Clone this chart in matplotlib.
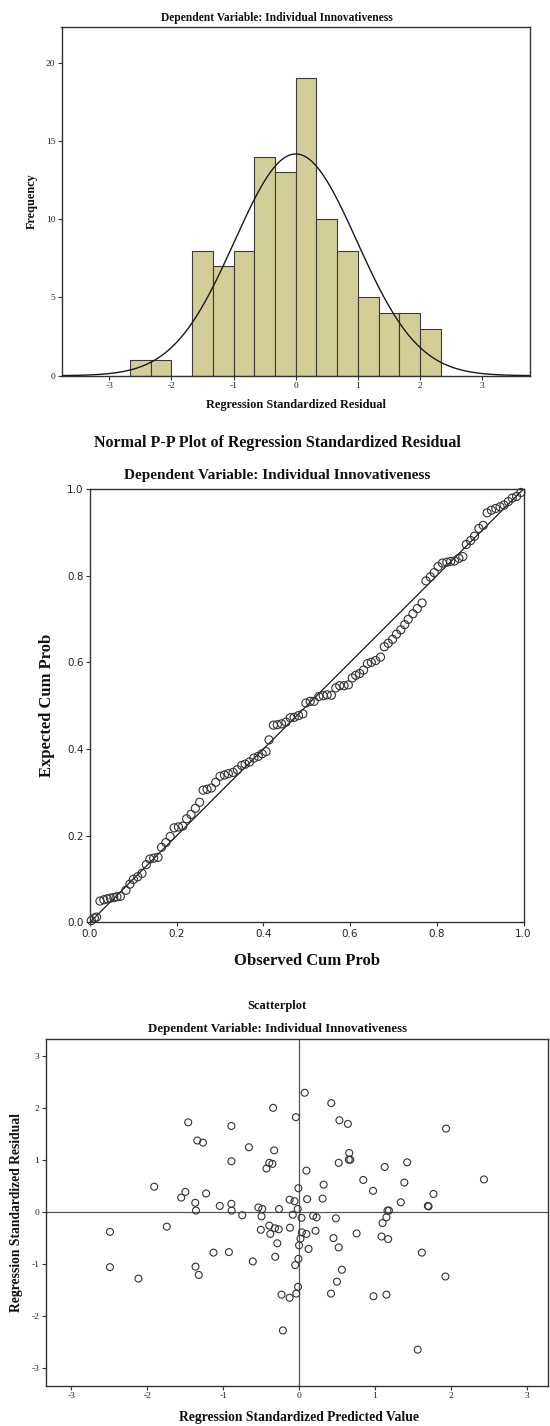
import numpy as np
import matplotlib
matplotlib.use("Agg")
import matplotlib.pyplot as plt

plt.rcParams["axes.unicode_minus"] = False

# ---------------- data ----------------
# Histogram of regression standardized residuals
hist_edges = [-2.667, -2.333, -2.0, -1.667, -1.333, -1.0, -0.667, -0.333, 0.0,
              0.333, 0.667, 1.0, 1.333, 1.667, 2.0, 2.333]
hist_counts = [1, 1, 0, 8, 7, 8, 14, 13, 19, 10, 8, 5, 4, 4, 3]
resid_mean = 0.0
resid_sd = 0.985

# Normal P-P plot
pp_observed = [0.003, 0.010, 0.015,
               0.023, 0.032, 0.040, 0.047, 0.055, 0.062, 0.070,
               0.083,
               0.092, 0.100, 0.110, 0.120,
               0.130, 0.138, 0.147, 0.157,
               0.165, 0.175, 0.185,
               0.194, 0.204, 0.214,
               0.223, 0.233, 0.243, 0.253,
               0.261, 0.270, 0.280,
               0.290, 0.300, 0.310, 0.319, 0.330, 0.340,
               0.350, 0.358, 0.368, 0.378, 0.388, 0.397, 0.406,
               0.413,
               0.423, 0.432, 0.442, 0.452, 0.462, 0.471, 0.481, 0.491,
               0.498, 0.508, 0.517, 0.528, 0.538, 0.547, 0.557,
               0.567, 0.576, 0.586, 0.596,
               0.605, 0.613, 0.622, 0.631, 0.640, 0.649, 0.659, 0.670,
               0.679, 0.688, 0.698, 0.707, 0.717, 0.726, 0.734, 0.745, 0.755, 0.766,
               0.775, 0.785, 0.794, 0.803, 0.813, 0.823, 0.832, 0.841, 0.851, 0.860,
               0.868, 0.878, 0.887, 0.897, 0.907,
               0.916, 0.926, 0.936, 0.946, 0.955,
               0.965, 0.974, 0.984, 0.994]
pp_expected = [0.004, 0.010, 0.012,
               0.049, 0.052, 0.054, 0.056, 0.057, 0.059, 0.060,
               0.074,
               0.088, 0.099, 0.105, 0.113,
               0.133, 0.146, 0.148, 0.150,
               0.173, 0.184, 0.198,
               0.218, 0.220, 0.222,
               0.239, 0.249, 0.263, 0.277,
               0.305, 0.307, 0.310,
               0.323, 0.337, 0.340, 0.343, 0.346, 0.352,
               0.362, 0.365, 0.370, 0.379, 0.383, 0.389, 0.394,
               0.421,
               0.455, 0.456, 0.458, 0.462, 0.472, 0.473, 0.477, 0.481,
               0.506, 0.510, 0.510, 0.521, 0.523, 0.525, 0.524,
               0.541, 0.546, 0.546, 0.548,
               0.564, 0.570, 0.574, 0.582, 0.597, 0.600, 0.604, 0.612,
               0.636, 0.644, 0.653, 0.665, 0.675, 0.687, 0.699, 0.712, 0.724, 0.737,
               0.788, 0.797, 0.807, 0.821, 0.829, 0.831, 0.833, 0.834, 0.840, 0.844,
               0.872, 0.881, 0.891, 0.909, 0.916,
               0.945, 0.951, 0.955, 0.959, 0.963,
               0.971, 0.979, 0.983, 0.992]

# Scatterplot: standardized predicted value vs standardized residual
sc_pred = [0.074, 0.425, -0.342, -0.042, 0.532, 0.643, -1.461, -0.892, 1.937,
           -1.341, -1.267, -0.661, -0.328, 0.661, 0.656, 0.675, -0.892,
           -0.393, -0.351, 0.522, 1.424, 1.128, -0.430, 0.097, 0.846, 2.436,
           -1.909, 0.324, 1.387, -1.498, -1.225, 0.975, 1.771, -0.009, -1.553,
           -0.125, -0.060, 0.106, 0.310, -1.368, -0.892, 1.341, -1.045,
           -0.536, -0.485, -0.264, -0.018, 1.706, 1.697, -1.359, -0.888,
           1.165, 1.184, -0.749, -0.495, -0.083, 0.032, 0.185, 0.231, 0.485,
           1.151, 1.100, -1.743, -2.492, -0.504, -0.393, -0.319, -0.268,
           -0.120, 0.037, 0.097, 0.217, -0.379, 0.758, 1.086, 1.174, 0.453,
           0.018, -0.287, 0.000, 0.522, 0.125, -1.128, -0.925, 1.618, -0.314,
           -0.009, -0.610, -2.492, -1.364, -0.051, 0.564, -1.322, 1.928,
           -2.117, 0.499, -0.014, 0.421, -0.231, -0.037, 1.151, -0.125, 0.980,
           -0.213, 1.563]
sc_resid = [2.30, 2.10, 2.01, 1.83, 1.77, 1.70, 1.73, 1.66, 1.61,
            1.38, 1.34, 1.25, 1.19, 1.14, 1.01, 1.01, 0.98,
            0.95, 0.93, 0.95, 0.96, 0.87, 0.84, 0.80, 0.62, 0.63,
            0.49, 0.53, 0.57, 0.39, 0.36, 0.41, 0.35, 0.46, 0.28,
            0.24, 0.21, 0.25, 0.26, 0.18, 0.16, 0.19, 0.12,
            0.09, 0.06, 0.06, 0.06, 0.11, 0.12, 0.03, 0.03,
            0.03, 0.03, -0.06, -0.08, -0.05, -0.11, -0.07, -0.10, -0.12,
            -0.10, -0.21, -0.28, -0.38, -0.34, -0.26, -0.31, -0.33,
            -0.30, -0.39, -0.42, -0.36, -0.42, -0.41, -0.47, -0.52, -0.50,
            -0.51, -0.60, -0.64, -0.68, -0.71, -0.78, -0.77, -0.78, -0.86,
            -0.90, -0.95, -1.06, -1.05, -1.02, -1.11, -1.21, -1.24,
            -1.28, -1.34, -1.44, -1.57, -1.59, -1.57, -1.59, -1.65, -1.62,
            -2.28, -2.65]

subtitle = "Dependent Variable: Individual Innovativeness"

# ---------------- layout helpers ----------------
W, H = 550, 1426
fig = plt.figure(figsize=(W / 100, H / 100), dpi=100)
fig.patch.set_facecolor("white")
SERIF = ["Liberation Serif", "DejaVu Serif"]
SANS = ["DejaVu Sans"]


def add_axes_px(left, top, right, bottom):
    return fig.add_axes([left / W, 1 - bottom / H, (right - left) / W, (bottom - top) / H])


def text_px(x, y, s, size, rot=0, weight="bold"):
    fig.text(x / W, 1 - y / H, s, ha="center", va="center", rotation=rot,
             fontsize=size, fontweight=weight, family=SERIF, color="#111111")


def style_axes(ax, tick_size, family):
    for sp in ax.spines.values():
        sp.set_color("#333333")
        sp.set_linewidth(1.0)
    ax.tick_params(direction="out", length=3, width=0.8, color="#333333",
                   labelsize=tick_size, pad=1.5, top=False, right=False)
    for lab in ax.get_xticklabels() + ax.get_yticklabels():
        lab.set_family(family)
        lab.set_color("#222222")


# ---------------- Histogram ----------------
ax1 = add_axes_px(61.5, 27.3, 530, 375.7)
edges = np.array(hist_edges)
counts = np.array(hist_counts)
ax1.bar(edges[:-1], counts, width=np.diff(edges), align="edge",
        color="#D3CE97", edgecolor="#3a3a3a", linewidth=0.8, zorder=2)
xs = np.linspace(-3.77, 3.77, 400)
binw = float(np.mean(np.diff(edges)))
n_total = counts.sum()
pdf = np.exp(-0.5 * ((xs - resid_mean) / resid_sd) ** 2) / (resid_sd * np.sqrt(2 * np.pi))
ax1.plot(xs, n_total * binw * pdf, color="#1a1a1a", lw=1.0, zorder=3)
ax1.set_xlim(-3.77, 3.77)
ax1.set_ylim(0, 22.27)
ax1.set_xticks([-3, -2, -1, 0, 1, 2, 3])
ax1.set_yticks([0, 5, 10, 15, 20])
style_axes(ax1, 6.8, SERIF)
text_px(277, 18, subtitle, 8.3)
text_px(295.5, 405, "Regression Standardized Residual", 8.8)
text_px(32, 201, "Frequency", 8.8, rot=90)

# ---------------- P-P plot ----------------
ax2 = add_axes_px(90, 489, 523.5, 922.3)
ax2.plot([0, 1], [0, 1], color="#1a1a1a", lw=0.9, zorder=2)
ax2.scatter(pp_observed, pp_expected, s=34, facecolors="none",
            edgecolors="#333333", linewidths=0.8, zorder=3, clip_on=False)
ax2.set_xlim(0, 1)
ax2.set_ylim(0, 1)
ticks = [0.0, 0.2, 0.4, 0.6, 0.8, 1.0]
ax2.set_xticks(ticks)
ax2.set_yticks(ticks)
ax2.set_xticklabels([f"{t:.1f}" for t in ticks])
ax2.set_yticklabels([f"{t:.1f}" for t in ticks])
style_axes(ax2, 7.5, SANS)
text_px(277, 443, "Normal P-P Plot of Regression Standardized Residual", 11.5)
text_px(277.5, 476, subtitle, 11.0)
text_px(306.5, 961, "Observed Cum Prob", 12.0)
text_px(47, 705, "Expected Cum Prob", 12.0, rot=90)

# ---------------- Scatterplot ----------------
ax3 = add_axes_px(45.6, 1039.3, 548, 1386)
ax3.axhline(0, color="#555555", lw=0.9, zorder=1)
ax3.axvline(0, color="#555555", lw=0.9, zorder=1)
ax3.scatter(sc_pred, sc_resid, s=25, facecolors="none",
            edgecolors="#333333", linewidths=0.8, zorder=3)
ax3.set_xlim(-3.34, 3.28)
ax3.set_ylim(-3.35, 3.33)
ax3.set_xticks([-3, -2, -1, 0, 1, 2, 3])
ax3.set_yticks([-3, -2, -1, 0, 1, 2, 3])
style_axes(ax3, 6.8, SERIF)
text_px(277, 1006, "Scatterplot", 9.0)
text_px(278, 1029, subtitle, 9.3)
text_px(299, 1418, "Regression Standardized Predicted Value", 9.8)
text_px(17, 1212, "Regression Standardized Residual", 9.8, rot=90)

fig.savefig("out.png", dpi=100, facecolor="white")
